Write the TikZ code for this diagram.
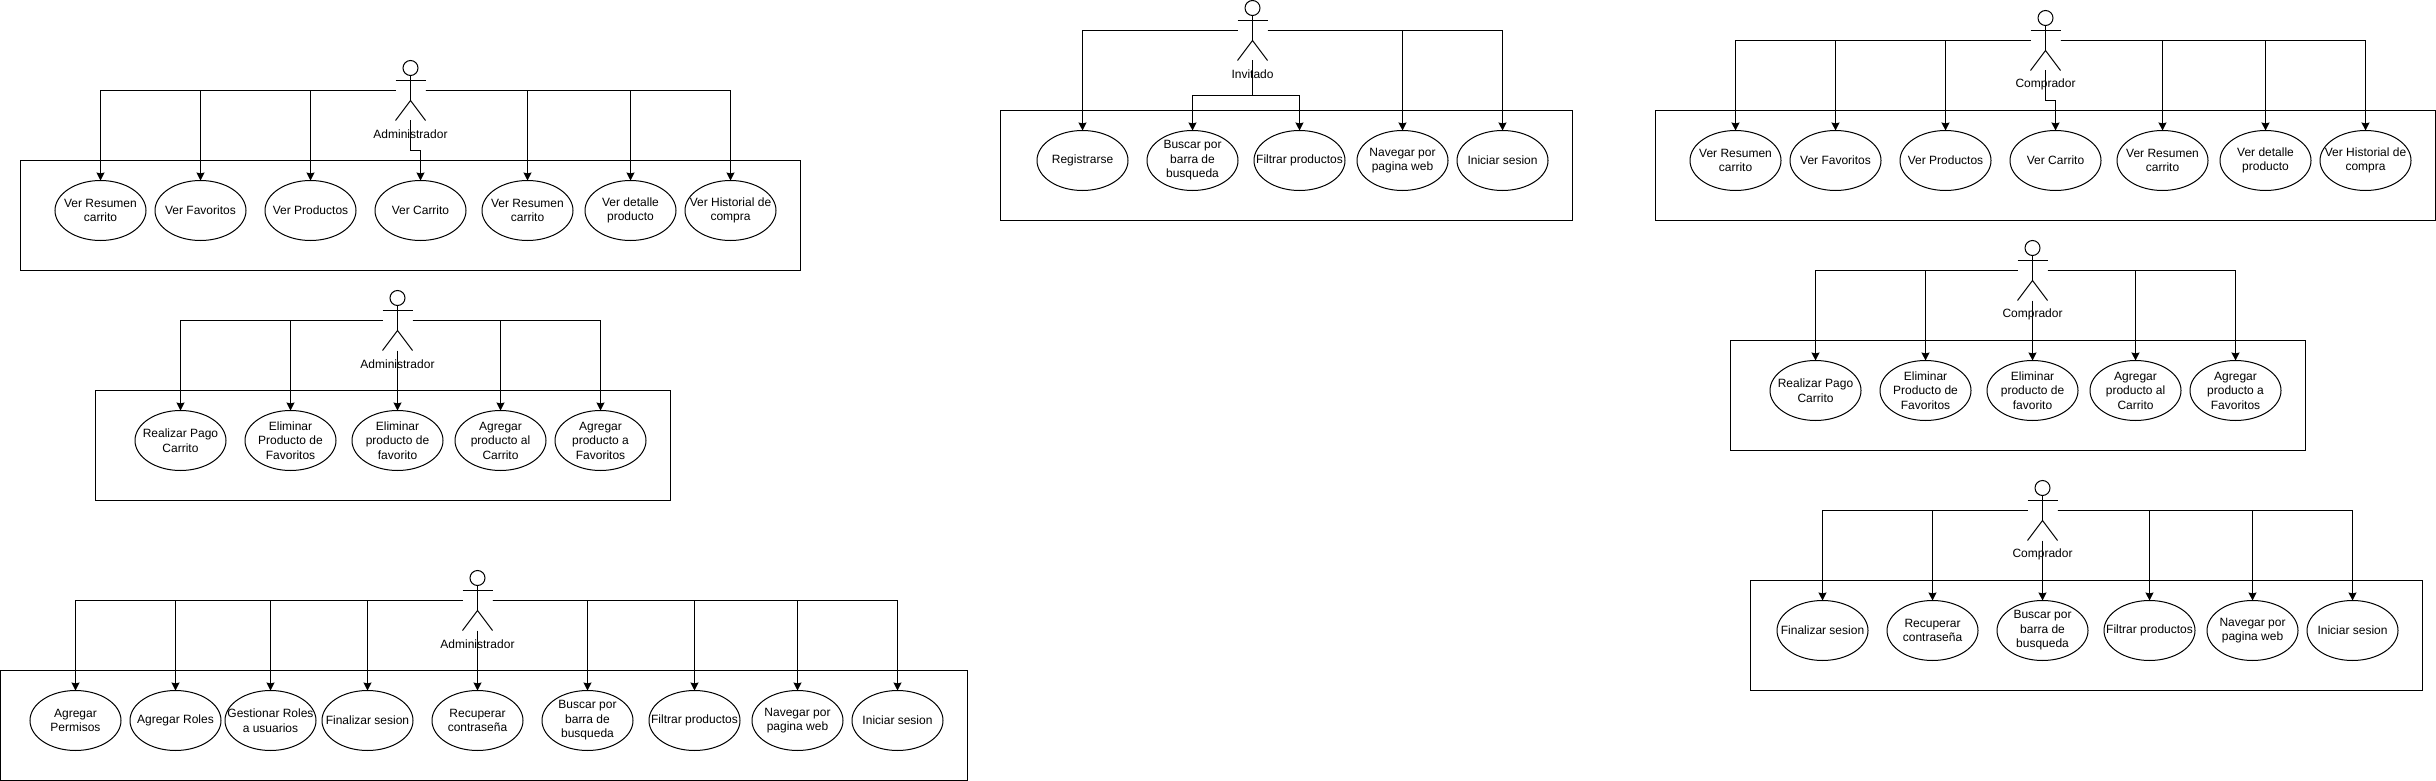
\documentclass[tikz,border=0pt]{standalone}
\usepackage{fontspec}
\setmainfont{Liberation Sans}
\usetikzlibrary{shapes.geometric,arrows.meta}
\tikzset{
  ucase/.style={draw=black,fill=white,ellipse,line width=1pt,minimum width=91pt,minimum height=60pt,inner sep=0pt,outer sep=0pt},
  uctext/.style={align=center,inner sep=0pt,outer sep=0pt,font=\fontsize{12pt}{14.5pt}\selectfont},
  frame/.style={draw=black,line width=1pt,inner sep=0pt,outer sep=0pt,minimum height=110pt},
  conn/.style={draw=black,line width=1pt,-{Stealth[length=8pt,width=8pt,inset=1pt]}},
  actorbody/.style={draw=none,inner sep=0pt,outer sep=0pt,minimum width=30pt,minimum height=60pt},
  actorline/.style={draw=black,line width=1pt},
  actorlabel/.style={inner sep=0pt,outer sep=0pt,font=\fontsize{12pt}{14.5pt}\selectfont}
}
% name, x, y(center), text
\newcommand{\ucnode}[4]{%
  \node[ucase] (#1) at (#2,#3) {};
  \node[uctext] (#1t) at (#2,#3) {#4};
}
% name, x(center), y(top), label
\newcommand{\actornode}[4]{%
  \node[actorbody] (#1) at (#2,#3+30) {};
  \draw[actorline] (#2,#3+7.5) circle [radius=7.5];
  \draw[actorline] (#2,#3+15) -- (#2,#3+40);
  \draw[actorline] (#2-15,#3+20) -- (#2+15,#3+20);
  \draw[actorline] (#2-15,#3+60) -- (#2,#3+40) -- (#2+15,#3+60);
  \node[actorlabel] (#1l) at (#2,#3+74) {#4};
}
\begin{document}
\begin{tikzpicture}[x=1pt,y=-1pt]
\useasboundingbox[fill=white] (0,0) rectangle (2436,781);
\begin{scope}[shift={(0,0.5)}]

% ---------- frames
\node[frame,minimum width=780pt] (fa) at (410.5,215) {};
\node[frame,minimum width=575pt] (fb) at (383,445) {};
\node[frame,minimum width=967pt] (fc) at (484,725) {};
\node[frame,minimum width=572pt] (fd) at (1286.5,165) {};
\node[frame,minimum width=780pt] (fe) at (2045.5,165) {};
\node[frame,minimum width=575pt] (ff) at (2018,395) {};
\node[frame,minimum width=672pt] (fg) at (2086.5,635) {};

% ---------- Group A
\actornode{A}{410.5}{60}{Administrador}
\ucnode{Aa}{100.5}{210}{Ver Resumen\\carrito}
\ucnode{Ab}{200.5}{210}{Ver Favoritos}
\ucnode{Ac}{310.5}{210}{Ver Productos}
\ucnode{Ad}{420.5}{210}{Ver Carrito}
\ucnode{Ae}{527.5}{210}{Ver Resumen\\carrito}
\ucnode{Af}{630.5}{210}{Ver detalle\\producto}
\ucnode{Ag}{730.5}{210}{Ver Historial de\\compra}
\draw[conn] (A.west) -| (Aa.north);
\draw[conn] (A.west) -| (Ab.north);
\draw[conn] (A.west) -| (Ac.north);
\draw[conn] (A.south) -- ++(0,30) -| (Ad.north);
\draw[conn] (A.east) -| (Ae.north);
\draw[conn] (A.east) -| (Af.north);
\draw[conn] (A.east) -| (Ag.north);

% ---------- Group B
\actornode{B}{397.5}{290}{Administrador}
\ucnode{Ba}{180.5}{440}{Realizar Pago\\Carrito}
\ucnode{Bb}{290.5}{440}{Eliminar\\Producto de\\Favoritos}
\ucnode{Bc}{397.5}{440}{Eliminar\\producto de\\favorito}
\ucnode{Bd}{500.5}{440}{Agregar\\producto al\\Carrito}
\ucnode{Be}{600.5}{440}{Agregar\\producto a\\Favoritos}
\draw[conn] (B.west) -| (Ba.north);
\draw[conn] (B.west) -| (Bb.north);
\draw[conn] (B.south) -- (Bc.north);
\draw[conn] (B.east) -| (Bd.north);
\draw[conn] (B.east) -| (Be.north);

% ---------- Group C
\actornode{C}{477.5}{570}{Administrador}
\ucnode{Ca}{75.5}{720}{Agregar\\Permisos}
\ucnode{Cb}{175.5}{720}{Agregar Roles}
\ucnode{Cc}{270.5}{720}{Gestionar Roles\\a usuarios}
\ucnode{Cd}{367.5}{720}{Finalizar sesion}
\ucnode{Ce}{477.5}{720}{Recuperar\\contraseña}
\ucnode{Cf}{587.5}{720}{Buscar por\\barra de\\busqueda}
\ucnode{Cg}{694.5}{720}{Filtrar productos}
\ucnode{Ch}{797.5}{720}{Navegar por\\pagina web}
\ucnode{Ci}{897.5}{720}{Iniciar sesion}
\draw[conn] (C.west) -| (Ca.north);
\draw[conn] (C.west) -| (Cb.north);
\draw[conn] (C.west) -| (Cc.north);
\draw[conn] (C.west) -| (Cd.north);
\draw[conn] (C.south) -- (Ce.north);
\draw[conn] (C.east) -| (Cf.north);
\draw[conn] (C.east) -| (Cg.north);
\draw[conn] (C.east) -| (Ch.north);
\draw[conn] (C.east) -| (Ci.north);

% ---------- Group D
\actornode{D}{1252.5}{0}{Invitado}
\ucnode{Da}{1082.5}{160}{Registrarse}
\ucnode{Db}{1192.5}{160}{Buscar por\\barra de\\busqueda}
\ucnode{Dc}{1299.5}{160}{Filtrar productos}
\ucnode{Dd}{1402.5}{160}{Navegar por\\pagina web}
\ucnode{De}{1502.5}{160}{Iniciar sesion}
\draw[conn] (D.west) -| (Da.north);
\draw[conn] (D.south) -- ++(0,35) -| (Db.north);
\draw[conn] (D.south) -- ++(0,35) -| (Dc.north);
\draw[conn] (D.east) -| (Dd.north);
\draw[conn] (D.east) -| (De.north);

% ---------- Group E
\actornode{E}{2045.5}{10}{Comprador}
\ucnode{Ea}{1735.5}{160}{Ver Resumen\\carrito}
\ucnode{Eb}{1835.5}{160}{Ver Favoritos}
\ucnode{Ec}{1945.5}{160}{Ver Productos}
\ucnode{Ed}{2055.5}{160}{Ver Carrito}
\ucnode{Ee}{2162.5}{160}{Ver Resumen\\carrito}
\ucnode{Ef}{2265.5}{160}{Ver detalle\\producto}
\ucnode{Eg}{2365.5}{160}{Ver Historial de\\compra}
\draw[conn] (E.west) -| (Ea.north);
\draw[conn] (E.west) -| (Eb.north);
\draw[conn] (E.west) -| (Ec.north);
\draw[conn] (E.south) -- ++(0,30) -| (Ed.north);
\draw[conn] (E.east) -| (Ee.north);
\draw[conn] (E.east) -| (Ef.north);
\draw[conn] (E.east) -| (Eg.north);

% ---------- Group F
\actornode{F}{2032.5}{240}{Comprador}
\ucnode{Fa}{1815.5}{390}{Realizar Pago\\Carrito}
\ucnode{Fb}{1925.5}{390}{Eliminar\\Producto de\\Favoritos}
\ucnode{Fc}{2032.5}{390}{Eliminar\\producto de\\favorito}
\ucnode{Fd}{2135.5}{390}{Agregar\\producto al\\Carrito}
\ucnode{Fe}{2235.5}{390}{Agregar\\producto a\\Favoritos}
\draw[conn] (F.west) -| (Fa.north);
\draw[conn] (F.west) -| (Fb.north);
\draw[conn] (F.south) -- (Fc.north);
\draw[conn] (F.east) -| (Fd.north);
\draw[conn] (F.east) -| (Fe.north);

% ---------- Group G
\actornode{G}{2042.5}{480}{Comprador}
\ucnode{Ga}{1822.5}{630}{Finalizar sesion}
\ucnode{Gb}{1932.5}{630}{Recuperar\\contraseña}
\ucnode{Gc}{2042.5}{630}{Buscar por\\barra de\\busqueda}
\ucnode{Gd}{2149.5}{630}{Filtrar productos}
\ucnode{Ge}{2252.5}{630}{Navegar por\\pagina web}
\ucnode{Gf}{2352.5}{630}{Iniciar sesion}
\draw[conn] (G.west) -| (Ga.north);
\draw[conn] (G.west) -| (Gb.north);
\draw[conn] (G.south) -- (Gc.north);
\draw[conn] (G.east) -| (Gd.north);
\draw[conn] (G.east) -| (Ge.north);
\draw[conn] (G.east) -| (Gf.north);
\end{scope}
\end{tikzpicture}
\end{document}
